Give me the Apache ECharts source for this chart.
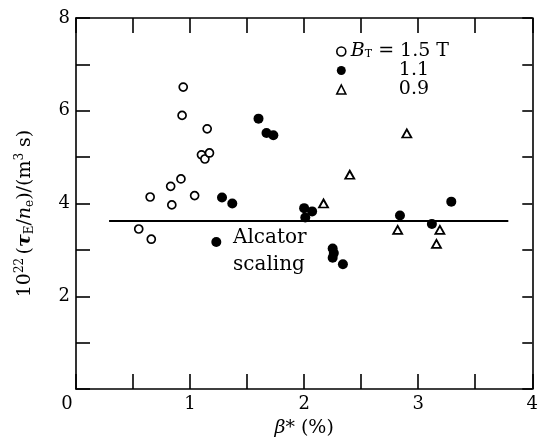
<!DOCTYPE html>
<html>
<head>
<meta charset="utf-8">
<script src="https://cdn.jsdelivr.net/npm/echarts@6/dist/echarts.min.js"></script>
<style>
  html, body { margin: 0; padding: 0; background: #fff; }
  #chart { width: 541px; height: 446px; }
</style>
</head>
<body>
<div id="chart"></div>
<script>
// B_T = 1.5 T (open circles)
const openX = [0.94, 0.93, 1.15, 1.10, 1.13, 1.17, 0.92, 0.83, 0.65, 0.84, 1.04, 0.55, 0.66]
const openY = [6.51, 5.90, 5.61, 5.05, 4.96, 5.09, 4.53, 4.37, 4.14, 3.97, 4.17, 3.45, 3.23]

// B_T = 1.1 T (filled circles)
const filledX = [1.60, 1.67, 1.73, 1.28, 1.37, 1.23, 2.00, 2.07, 2.01, 2.25, 2.26, 2.25, 2.34, 2.84, 3.12, 3.29]
const filledY = [5.83, 5.52, 5.47, 4.13, 4.00, 3.17, 3.90, 3.83, 3.70, 3.03, 2.93, 2.83, 2.69, 3.74, 3.56, 4.04]

// B_T = 0.9 T (triangles)
const triX = [2.90, 2.40, 2.17, 2.82, 3.19, 3.16]
const triY = [5.51, 4.62, 4.00, 3.43, 3.43, 3.13]

// Alcator scaling line
const alcatorX = [0.29, 3.79]
const alcatorY = 3.62

const xTicks = [0, 1, 2, 3, 4]
const yTicks = [2, 4, 6, 8]

const font = 'DejaVu Serif'
const chart = echarts.init(document.getElementById('chart'), null, { renderer: 'canvas' })

function pairs(xs, ys) {
  return xs.map((x, i) => [x, ys[i]])
}

function axisLine() {
  return { show: true, onZero: false, lineStyle: { color: '#000', width: 1.6 } }
}

function axisTick(length) {
  return { show: true, inside: true, length, lineStyle: { color: '#000', width: 1.6 } }
}

const legendNames = ['1.5 T', '1.1', '0.9']

const option = {
  animation: false,
  backgroundColor: '#fff',
  grid: { left: 76, top: 18, width: 466, height: 371, containLabel: false },
  legend: {
    orient: 'vertical',
    left: 331,
    top: 36,
    itemGap: 0,
    itemWidth: 9,
    itemHeight: 9,
    itemStyle: { borderWidth: 1.6 },
    data: legendNames,
    formatter: (name) => {
      if (name === '1.5 T') return '{i|B}{sub|T}{t| = 1.5 T}'
      return '{pad|}{t|' + name + '}'
    },
    textStyle: {
      fontFamily: font,
      color: '#000',
      rich: {
        i: { fontFamily: font, fontStyle: 'italic', fontSize: 19, lineHeight: 17, color: '#000' },
        sub: { fontFamily: font, fontSize: 11, lineHeight: 17, verticalAlign: 'bottom', padding: [8, 0, 0, 0], color: '#000' },
        t: { fontFamily: font, fontSize: 19, lineHeight: 17, color: '#000' },
        pad: { width: 48 }
      }
    }
  },
  xAxis: [
    {
      type: 'value',
      min: 0,
      max: 4,
      interval: 0.5,
      position: 'bottom',
      name: '{gi|β}{t|* (%)}',
      nameLocation: 'middle',
      nameGap: 30,
      nameTextStyle: {
        rich: {
          gi: { fontFamily: font, fontStyle: 'italic', fontSize: 19, color: '#000' },
          t: { fontFamily: font, fontSize: 19, color: '#000' }
        }
      },
      axisLine: axisLine(),
      axisTick: axisTick(15),
      splitLine: { show: false },
      axisLabel: {
        margin: 6,
        showMaxLabel: true,
        fontFamily: font,
        fontSize: 18,
        color: '#000',
        formatter: (v) => {
          if (!xTicks.includes(v)) return ''
          if (v === 0) return '{z|0}'
          return String(v)
        },
        rich: { z: { fontFamily: font, fontSize: 18, color: '#000', padding: [0, 18, 0, 0] } }
      }
    },
    {
      type: 'value',
      min: 0,
      max: 4,
      interval: 0.5,
      position: 'top',
      axisLine: axisLine(),
      axisTick: axisTick(15),
      axisLabel: { show: false },
      splitLine: { show: false }
    }
  ],
  yAxis: [
    {
      type: 'value',
      min: 0,
      max: 8,
      interval: 1,
      position: 'left',
      name: '{a|10}{sup|22} {a|(}{gi|τ}{sub|E}{a|/}{i|n}{sub|e}{a|)/(m}{sup|3}{a| s)}',
      nameLocation: 'middle',
      nameRotate: 90,
      nameGap: 40,
      nameTextStyle: {
        padding: [0, 20, 0, 0],
        rich: {
          a: { fontFamily: font, fontSize: 19, lineHeight: 22, color: '#000' },
          i: { fontFamily: font, fontStyle: 'italic', fontSize: 19, lineHeight: 22, color: '#000' },
          gi: { fontFamily: font, fontStyle: 'italic', fontWeight: 'bold', fontSize: 19, lineHeight: 22, color: '#000' },
          sup: { fontFamily: font, fontSize: 12, lineHeight: 22, verticalAlign: 'top', padding: [0, 0, 8, 0], color: '#000' },
          sub: { fontFamily: font, fontSize: 12, lineHeight: 22, verticalAlign: 'bottom', padding: [8, 0, 0, 0], color: '#000' }
        }
      },
      axisLine: axisLine(),
      axisTick: axisTick(14),
      splitLine: { show: false },
      axisLabel: {
        margin: 6,
        fontFamily: font,
        fontSize: 18,
        color: '#000',
        formatter: (v) => (yTicks.includes(v) ? String(v) : '')
      }
    },
    {
      type: 'value',
      min: 0,
      max: 8,
      interval: 1,
      position: 'right',
      axisLine: axisLine(),
      axisTick: axisTick(10),
      axisLabel: { show: false },
      splitLine: { show: false }
    }
  ],
  graphic: [
    {
      type: 'text',
      left: 233,
      top: 224,
      style: {
        text: 'Alcator\nscaling',
        font: '20px "DejaVu Serif"',
        lineHeight: 27,
        fill: '#000'
      }
    }
  ],
  series: [
    {
      name: 'alcator',
      type: 'line',
      data: alcatorX.map((x) => [x, alcatorY]),
      symbol: 'none',
      lineStyle: { color: '#000', width: 2 },
      z: 1
    },
    {
      name: '1.5 T',
      type: 'scatter',
      data: pairs(openX, openY),
      symbol: 'circle',
      symbolSize: 8,
      itemStyle: { color: '#fff', borderColor: '#000', borderWidth: 1.7, opacity: 1 },
      z: 3
    },
    {
      name: '1.1',
      type: 'scatter',
      data: pairs(filledX, filledY),
      symbol: 'circle',
      symbolSize: 10,
      itemStyle: { color: '#000', opacity: 1 },
      z: 3
    },
    {
      name: '0.9',
      type: 'scatter',
      data: pairs(triX, triY),
      symbol: 'triangle',
      symbolSize: [9, 8],
      itemStyle: { color: '#fff', borderColor: '#000', borderWidth: 1.8, opacity: 1 },
      z: 3
    }
  ]
}

chart.setOption(option)
</script>
</body>
</html>
